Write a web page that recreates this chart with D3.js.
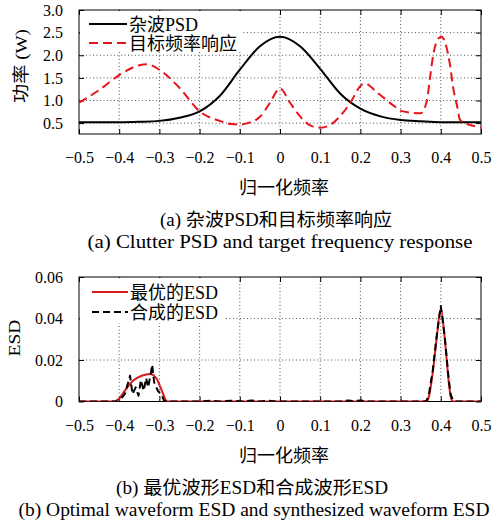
<!DOCTYPE html>
<html>
<head>
<meta charset="utf-8">
<script src="https://cdn.jsdelivr.net/npm/d3@7"></script>
<style>
  body { margin: 0; background: #fff; }
  text { font-family: 'Liberation Serif', 'Noto Sans CJK SC', serif; fill: #000; }
</style>
</head>
<body>
<div id="chart"></div>
<script>
// ---- data ----
// (a) clutter PSD
var clutterFreq = [-0.5, -0.45, -0.4, -0.35, -0.3, -0.25, -0.2, -0.15, -0.1, -0.05, 0,
  0.05, 0.1, 0.15, 0.2, 0.25, 0.3, 0.35, 0.4, 0.45, 0.5];
var clutterPsd = [0.52, 0.52, 0.52, 0.53, 0.55, 0.62, 0.76, 1.1, 1.68, 2.2, 2.41,
  2.2, 1.7, 1.15, 0.82, 0.65, 0.57, 0.54, 0.52, 0.52, 0.52];

// (a) target frequency response
var targetFreq = [-0.5, -0.45, -0.4, -0.35, -0.33, -0.3, -0.25, -0.2, -0.15, -0.12, -0.1, -0.08,
  -0.05, -0.025, 0, 0.025, 0.05, 0.075, 0.1, 0.125, 0.15, 0.175, 0.2, 0.21, 0.244, 0.29, 0.305,
  0.35, 0.365, 0.373, 0.381, 0.394, 0.402, 0.41, 0.423, 0.431, 0.44, 0.448, 0.46, 0.485, 0.5];
var targetResp = [0.95, 1.23, 1.56, 1.78, 1.8, 1.68, 1.28, 0.76, 0.55, 0.48, 0.47, 0.5,
  0.64, 0.95, 1.27, 0.95, 0.65, 0.45, 0.4, 0.46, 0.66, 0.95, 1.32, 1.38, 1.16, 0.84, 0.76,
  0.72, 0.98, 1.49, 2.0, 2.37, 2.41, 2.3, 1.78, 1.27, 0.9, 0.57, 0.5, 0.43, 0.4];

// (b) optimal waveform ESD
var optFreq = [-0.5, -0.415, -0.4, -0.386, -0.365, -0.344, -0.323, -0.307, -0.294, -0.282,
  -0.275, 0.365, 0.37, 0.38, 0.39, 0.4, 0.41, 0.42, 0.425, 0.43, 0.5];
var optEsd = [0, 0, 0.0015, 0.0052, 0.0101, 0.0124, 0.0133, 0.011, 0.0052, 0.0002,
  0, 0, 0.002, 0.014, 0.031, 0.045, 0.03, 0.009, 0.002, 0, 0];

// (b) synthesized waveform ESD
var synFreq = [-0.5, -0.402, -0.386, -0.373, -0.367, -0.359, -0.352, -0.346, -0.339, -0.333,
  -0.328, -0.321, -0.318, -0.313, -0.304, -0.296, -0.288, -0.278, -0.2, -0.17, -0.15, -0.12,
  -0.09, -0.07, -0.05, -0.03, -0.01, 0.1, 0.15, 0.17, 0.18, 0.2, 0.22, 0.36, 0.365, 0.37,
  0.38, 0.39, 0.4, 0.41, 0.42, 0.425, 0.43, 0.435, 0.5];
var synEsd = [0, 0, 0.0036, 0.0124, 0.0036, 0.0068, 0.0028, 0.0103, 0.0052, 0.0113,
  0.0068, 0.014, 0.0177, 0.0092, 0.0052, 0.0036, 0.0003, 0, 0, 0.0004, 0, 0.0004,
  0, 0.0005, 0, 0.0004, 0, 0, 0, 0.0005, 0.0002, 0.0005, 0, 0, 0.0005, 0.003,
  0.015, 0.032, 0.046, 0.031, 0.01, 0.003, 0.0008, 0, 0];

var xTicks = [-0.5, -0.4, -0.3, -0.2, -0.1, 0, 0.1, 0.2, 0.3, 0.4, 0.5];
var yTicksA = [0.5, 1.0, 1.5, 2.0, 2.5, 3.0];
var yTicksB = [0, 0.02, 0.04, 0.06];

// ---- layout ----
var svg = d3.select("#chart").append("svg")
  .attr("width", 492)
  .attr("height", 525);

var plotLeft = 79, plotRight = 481;
var serif = "'Liberation Serif', 'Times New Roman', serif";

function fmtX(d) {
  if (d === 0) return "0";
  return (d < 0 ? "\u2212" : "") + Math.abs(d).toFixed(1);
}

function drawPanel(p) {
  var g = svg.append("g");
  var x = d3.scaleLinear().domain([-0.5, 0.5]).range([plotLeft, plotRight]);
  var y = d3.scaleLinear().domain(p.yDomain).range([p.bottom, p.top]);

  // dotted grid
  g.append("g").selectAll("line")
    .data(xTicks.slice(1, -1))
    .enter().append("line")
    .attr("x1", d => x(d)).attr("x2", d => x(d))
    .attr("y1", p.top).attr("y2", p.bottom)
    .attr("stroke", "#555").attr("stroke-width", 1)
    .attr("stroke-dasharray", "1,2.5");
  g.append("g").selectAll("line")
    .data(p.yTicks.filter(d => y(d) > p.top + 1 && y(d) < p.bottom - 1))
    .enter().append("line")
    .attr("x1", plotLeft).attr("x2", plotRight)
    .attr("y1", d => y(d)).attr("y2", d => y(d))
    .attr("stroke", "#555").attr("stroke-width", 1)
    .attr("stroke-dasharray", "1,2.5");

  // axes, ticks pointing inward
  var bottomAxis = d3.axisBottom(x).tickValues(xTicks).tickSize(-5).tickPadding(18).tickFormat(fmtX);
  var topAxis = d3.axisTop(x).tickValues(xTicks).tickSize(-5).tickFormat("");
  var leftAxis = d3.axisLeft(y).tickValues(p.yTicks).tickSize(-5).tickPadding(16).tickFormat(p.yFmt);
  var rightAxis = d3.axisRight(y).tickValues(p.yTicks).tickSize(-5).tickFormat("");

  [[bottomAxis, `translate(0,${p.bottom})`], [topAxis, `translate(0,${p.top})`],
   [leftAxis, `translate(${plotLeft},0)`], [rightAxis, `translate(${plotRight},0)`]]
    .forEach(function(a) {
      var ax = g.append("g").attr("transform", a[1]).call(a[0])
        .attr("font-family", serif).attr("font-size", 16);
      ax.select(".domain").remove();
      ax.selectAll("line").attr("stroke", "#000");
      ax.selectAll("text")
        .attr("font-size", 16)
        .style("font-family", serif);
    });

  // frame
  g.append("rect")
    .attr("x", plotLeft).attr("y", p.top)
    .attr("width", plotRight - plotLeft).attr("height", p.bottom - p.top)
    .attr("fill", "none").attr("stroke", "#000").attr("stroke-width", 1);

  // clip for data lines
  var clipId = "clip" + p.id;
  svg.append("clipPath").attr("id", clipId).append("rect")
    .attr("x", plotLeft).attr("y", p.top)
    .attr("width", plotRight - plotLeft).attr("height", p.bottom - p.top);

  var lines = g.append("g").attr("clip-path", `url(#${clipId})`);
  p.series.forEach(function(s) {
    var pts = s.f.map((f, i) => [f, s.v[i]]);
    var line = d3.line()
      .x(d => x(d[0]))
      .y(d => y(d[1]))
      .curve(s.curve || d3.curveLinear);
    lines.append("path")
      .datum(pts)
      .attr("d", line)
      .attr("fill", "none")
      .attr("stroke", s.color)
      .attr("stroke-width", s.width)
      .attr("stroke-dasharray", s.dash || null)
      .attr("stroke-linejoin", "round");
  });

  // legend (white background, no border)
  var lg = g.append("g");
  lg.append("rect")
    .attr("x", plotLeft + 1).attr("y", p.top + 1)
    .attr("width", p.legendW).attr("height", p.legendH)
    .attr("fill", "#fff");
  p.series.forEach(function(s, i) {
    var ly = p.legendY[i];
    lg.append("line")
      .attr("x1", p.legendX1).attr("x2", p.legendX2)
      .attr("y1", ly).attr("y2", ly)
      .attr("stroke", s.color).attr("stroke-width", s.width)
      .attr("stroke-dasharray", s.dash || null);
    lg.append("text")
      .attr("x", p.legendX2 + 2).attr("y", ly + 6.5)
      .attr("font-size", 18)
      .text(s.name);
  });

  // axis titles
  g.append("text")
    .attr("x", (plotLeft + plotRight) / 2 + 4).attr("y", p.xLabelY)
    .attr("text-anchor", "middle").attr("font-size", 18)
    .text("归一化频率");
  g.append("text")
    .attr("transform", `translate(${p.yLabelX},${p.yLabelY}) rotate(-90)`)
    .attr("text-anchor", "middle").attr("font-size", 17)
    .attr("textLength", p.yLabelLen).attr("lengthAdjust", "spacingAndGlyphs")
    .text(p.yLabel);

  // captions
  p.captions.forEach(function(c) {
    g.append("text")
      .attr("x", c.x).attr("y", c.y)
      .attr("text-anchor", "middle").attr("font-size", 18)
      .attr("textLength", c.len).attr("lengthAdjust", "spacingAndGlyphs")
      .text(c.text);
  });
}

// panel (a)
drawPanel({
  id: "a", top: 10, bottom: 134, yDomain: [0.26, 3.0], yTicks: yTicksA,
  yFmt: d => d.toFixed(1),
  series: [
    { name: "杂波PSD", f: clutterFreq, v: clutterPsd, color: "#000", width: 2,
      curve: d3.curveMonotoneX },
    { name: "目标频率响应", f: targetFreq, v: targetResp, color: "#e8141c", width: 2,
      dash: "9,5", curve: d3.curveMonotoneX }
  ],
  legendW: 162, legendH: 41, legendX1: 89, legendX2: 127, legendY: [24, 43],
  xLabelY: 194, yLabel: "功率 (W)", yLabelX: 27, yLabelY: 66, yLabelLen: 74,
  captions: [
    { text: "(a) 杂波PSD和目标频率响应", x: 276, y: 226, len: 232 },
    { text: "(a) Clutter PSD and target frequency response", x: 280, y: 248, len: 385 }
  ]
});

// panel (b)
drawPanel({
  id: "b", top: 277, bottom: 401.5, yDomain: [0, 0.06], yTicks: yTicksB,
  yFmt: d => d === 0 ? "0" : d.toFixed(2),
  series: [
    { name: "最优的ESD", f: optFreq, v: optEsd, color: "#d7191c", width: 2,
      curve: d3.curveMonotoneX },
    { name: "合成的ESD", f: synFreq, v: synEsd, color: "#000", width: 2, dash: "7,4" }
  ],
  legendW: 145, legendH: 45, legendX1: 92, legendX2: 128, legendY: [292, 312],
  xLabelY: 462, yLabel: "ESD", yLabelX: 20, yLabelY: 338, yLabelLen: 37,
  captions: [
    { text: "(b) 最优波形ESD和合成波形ESD", x: 252, y: 494, len: 272 },
    { text: "(b) Optimal waveform ESD and synthesized waveform ESD", x: 254, y: 516, len: 471 }
  ]
});
</script>
</body>
</html>
